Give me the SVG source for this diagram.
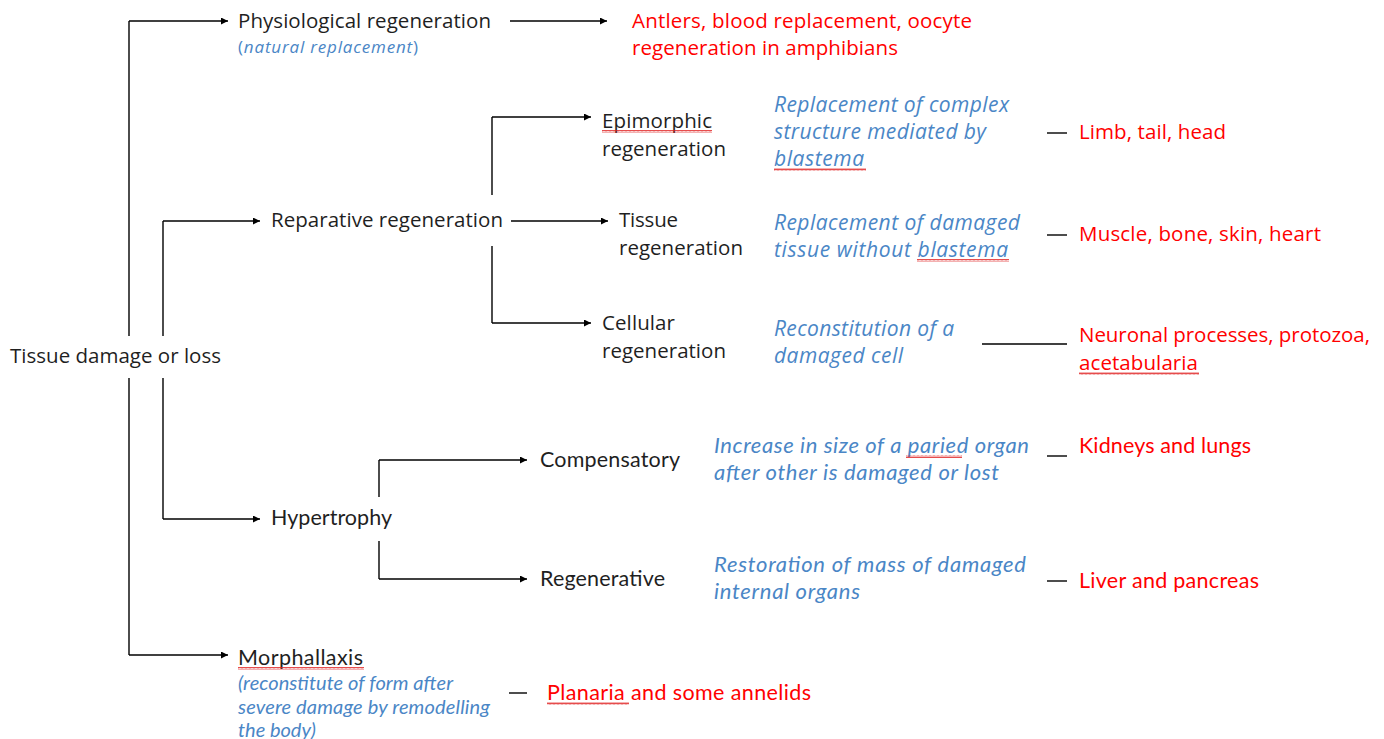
<svg xmlns="http://www.w3.org/2000/svg" width="1384" height="739" viewBox="0 0 1384 739">
<style>
.k{font-family:"Open Sans","Liberation Sans",sans-serif;font-size:20.5px;fill:#1f1f1f}
.kc{font-family:Lato,"Open Sans",sans-serif;font-size:21.5px;fill:#1f1f1f}
.b{font-family:"Open Sans","Liberation Sans",sans-serif;font-size:21px;font-style:italic;fill:#4a86c6}
.bc{font-family:Lato,"Open Sans",sans-serif;font-size:22px;font-style:italic;fill:#4a86c6}
.r{font-family:"Open Sans","Liberation Sans",sans-serif;font-size:20.5px;fill:#ff0000}
.rc{font-family:Lato,"Open Sans",sans-serif;font-size:21.5px;fill:#ff0000}
.ln{stroke:#000;stroke-width:1.4;fill:none}
.ar{stroke:#000;stroke-width:1.4;fill:none;marker-end:url(#ah)}
.sq{fill:url(#wave)}
</style>
<defs>
<marker id="ah" viewBox="0 0 10 10" refX="10" refY="5" markerWidth="7" markerHeight="7" markerUnits="userSpaceOnUse" orient="auto">
<path d="M0,0 L10,5 L0,10 z" fill="#000"/>
</marker>
<pattern id="wave" width="4" height="3" patternUnits="userSpaceOnUse">
<polyline points="0,2.5 1,0.5 2,2.5 3,0.5 4,2.5" fill="none" stroke="#e02020" stroke-width="0.8"/>
</pattern>
</defs>
<rect width="1384" height="739" fill="#fff"/>

<g id="connectors">
<path class="ln" d="M129,336 V21"/>
<path class="ar" d="M129,21 H228"/>
<path class="ln" d="M129,378 V655"/>
<path class="ar" d="M129,655 H228"/>
<path class="ln" d="M163,336 V221"/>
<path class="ar" d="M163,221 H260"/>
<path class="ln" d="M163,378 V519"/>
<path class="ar" d="M163,519 H260"/>
<path class="ar" d="M510,21 H607"/>
<path class="ln" d="M492,195 V117"/>
<path class="ar" d="M492,117 H591"/>
<path class="ar" d="M511,221 H608"/>
<path class="ln" d="M492,246 V323"/>
<path class="ar" d="M492,323 H591"/>
<path class="ln" d="M1047,133 H1067"/>
<path class="ln" d="M1047,235 H1067"/>
<path class="ln" d="M982,344 H1067"/>
<path class="ln" d="M379,497 V460"/>
<path class="ar" d="M379,460 H527"/>
<path class="ln" d="M379,541 V579"/>
<path class="ar" d="M379,579 H527"/>
<path class="ln" d="M1047,456 H1067"/>
<path class="ln" d="M1047,581 H1067"/>
<path class="ln" d="M509,693 H527"/>
</g>

<g id="n-root"><text class="k" x="10" y="363" textLength="211">Tissue damage or loss</text></g>

<g id="n-physio">
<text class="k" x="238" y="28" textLength="253">Physiological regeneration</text>
<text x="238" y="53" textLength="180" style="font-family:'Open Sans',sans-serif;font-size:17px;fill:#4a86c6">(<tspan font-style="italic">natural replacement</tspan>)</text>
</g>
<g id="n-physio-ex">
<text class="r" x="632" y="28" textLength="340">Antlers, blood replacement, oocyte</text>
<text class="r" x="632" y="55" textLength="266">regeneration in amphibians</text>
</g>

<g id="n-reparative"><text class="k" x="271" y="227" textLength="232">Reparative regeneration</text></g>

<g id="n-epimorphic">
<text class="k" x="602" y="128" textLength="110">Epimorphic</text>
<text class="k" x="602" y="156" textLength="124">regeneration</text>
<rect class="sq" x="602" y="130" width="110" height="3"/>
</g>
<g id="n-epimorphic-desc">
<text class="b" x="774" y="112" textLength="235">Replacement of complex</text>
<text class="b" x="774" y="139" textLength="212">structure mediated by</text>
<text class="b" x="774" y="166" textLength="90">blastema</text>
<rect class="sq" x="774" y="168" width="92" height="3"/>
</g>
<g id="n-epimorphic-ex"><text class="r" x="1079" y="139" textLength="147">Limb, tail, head</text></g>

<g id="n-tissue">
<text class="k" x="619" y="227" textLength="59">Tissue</text>
<text class="k" x="619" y="255" textLength="124">regeneration</text>
</g>
<g id="n-tissue-desc">
<text class="b" x="774" y="230" textLength="246">Replacement of damaged</text>
<text class="b" x="774" y="257" textLength="234">tissue without blastema</text>
<rect class="sq" x="917" y="259" width="92" height="3"/>
</g>
<g id="n-tissue-ex"><text class="r" x="1079" y="241" textLength="242">Muscle, bone, skin, heart</text></g>

<g id="n-cellular">
<text class="k" x="602" y="330" textLength="73">Cellular</text>
<text class="k" x="602" y="358" textLength="124">regeneration</text>
</g>
<g id="n-cellular-desc">
<text class="b" x="774" y="336" textLength="180">Reconstitution of a</text>
<text class="b" x="774" y="363" textLength="129">damaged cell</text>
</g>
<g id="n-cellular-ex">
<text class="r" x="1079" y="342" textLength="291">Neuronal processes, protozoa,</text>
<text class="r" x="1079" y="370" textLength="119">acetabularia</text>
<rect class="sq" x="1079" y="372" width="120" height="3"/>
</g>

<g id="n-hypertrophy"><text class="kc" x="271" y="525" textLength="121">Hypertrophy</text></g>

<g id="n-compensatory"><text class="kc" x="540" y="467" textLength="140">Compensatory</text></g>
<g id="n-compensatory-desc">
<text class="bc" x="714" y="453" textLength="315">Increase in size of a paried organ</text>
<text class="bc" x="714" y="480" textLength="285">after other is damaged or lost</text>
<rect class="sq" x="906" y="455" width="56" height="3"/>
</g>
<g id="n-compensatory-ex"><text class="rc" x="1079" y="453" textLength="172">Kidneys and lungs</text></g>

<g id="n-regenerative"><text class="kc" x="540" y="586" textLength="125">Regenerative</text></g>
<g id="n-regenerative-desc">
<text class="bc" x="714" y="572" textLength="312">Restoration of mass of damaged</text>
<text class="bc" x="714" y="599" textLength="146">internal organs</text>
</g>
<g id="n-regenerative-ex"><text class="rc" x="1079" y="588" textLength="180">Liver and pancreas</text></g>

<g id="n-morphallaxis">
<text class="kc" x="238" y="665" textLength="125">Morphallaxis</text>
<rect class="sq" x="238" y="667" width="126" height="3"/>
<text class="bc" x="238" y="690" textLength="215" style="font-size:20px">(reconstitute of form after</text>
<text class="bc" x="238" y="714" textLength="252" style="font-size:20px">severe damage by remodelling</text>
<text class="bc" x="238" y="737" textLength="78" style="font-size:20px">the body)</text>
</g>
<g id="n-morphallaxis-ex">
<text class="rc" x="547" y="700" textLength="264">Planaria and some annelids</text>
<rect class="sq" x="547" y="702" width="82" height="3"/>
</g>
</svg>
